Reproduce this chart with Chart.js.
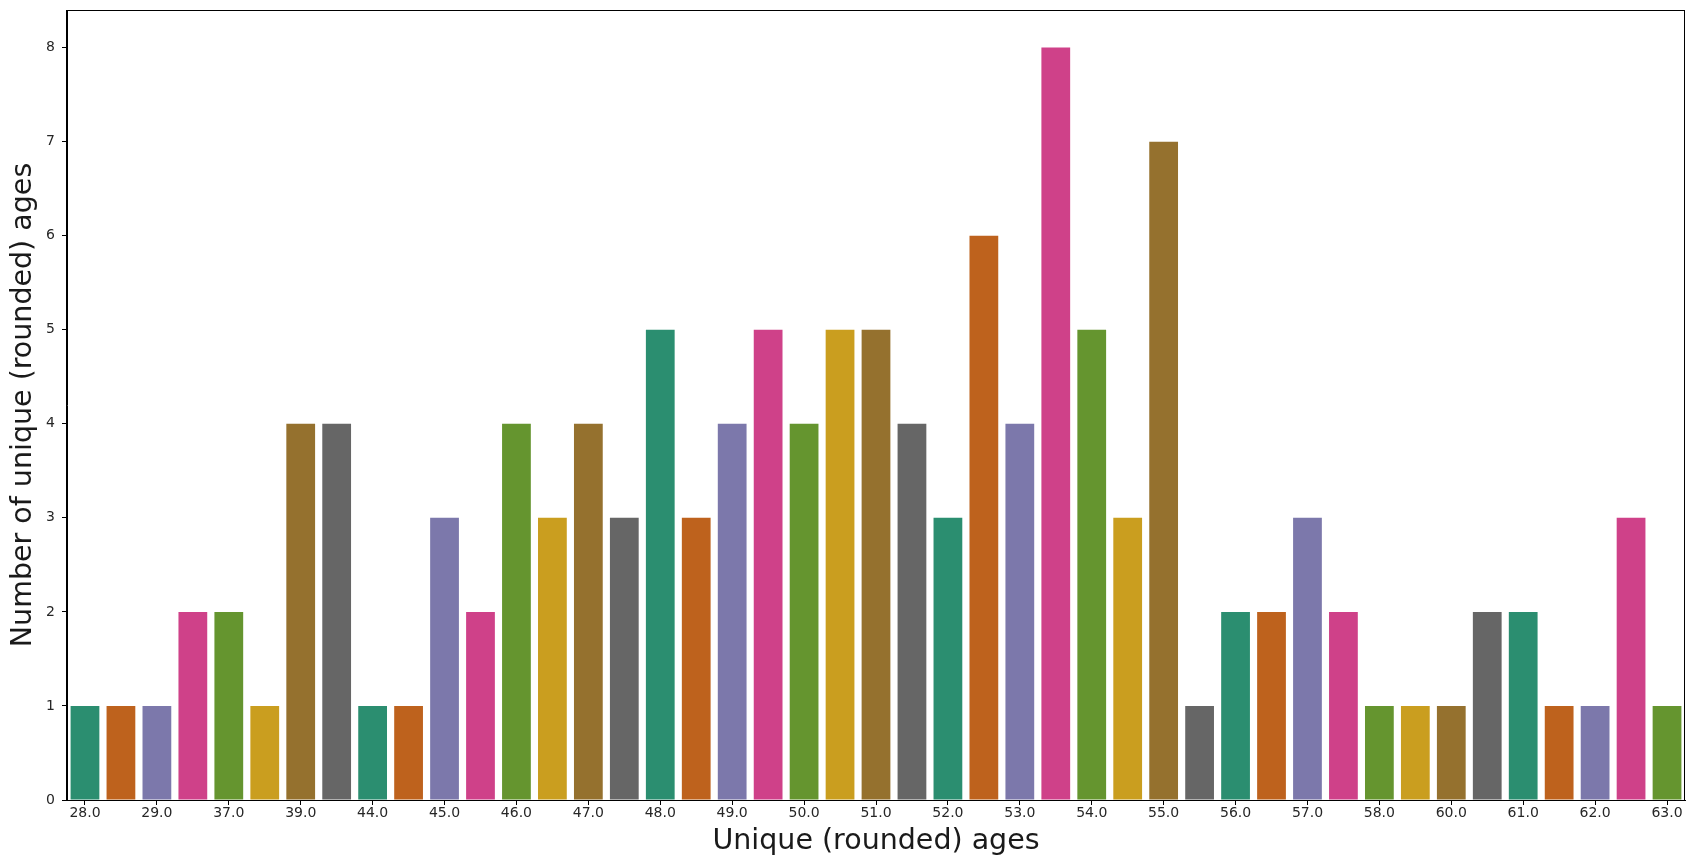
<!DOCTYPE html>
<html>
    <head>
        <meta charset="utf-8">
        <style>
            html, body { margin: 0; padding: 0; background: #ffffff; }
            canvas { display: block; }
        </style>
    </head>
    <body>

	<div>
		<canvas id="myChart" width="1699" height="868"></canvas>
	</div>

        <script src="https://cdn.jsdelivr.net/npm/chart.js"></script>

        <script>
		// counts per unique (rounded) age, left to right
		const counts = [1, 1, 1, 2, 2, 1, 4, 4, 1, 1, 3, 2, 4, 3, 4, 3, 5, 3, 4, 5, 4, 5, 5,
		                4, 3, 6, 4, 8, 5, 3, 7, 1, 2, 2, 3, 2, 1, 1, 1, 2, 2, 1, 1, 3, 1];

		// only every other category is labelled on the x axis
		const tickLabels = ['28.0', '29.0', '37.0', '39.0', '44.0', '45.0', '46.0', '47.0',
		                    '48.0', '49.0', '50.0', '51.0', '52.0', '53.0', '54.0', '55.0',
		                    '56.0', '57.0', '58.0', '60.0', '61.0', '62.0', '63.0'];

		const yTicks = [0, 1, 2, 3, 4, 5, 6, 7, 8];

		// Dark2, desaturated the way seaborn does for bars
		const palette = ['#2b8e70', '#be621d', '#7c78ab', '#cf4189',
		                 '#65952f', '#ca9e1f', '#95712e', '#666666'];

		const fontFamily = '"DejaVu Sans", "Liberation Sans", sans-serif';

		const frame = {
			id: 'frame',
			afterDatasetsDraw(chart) {
				const a = chart.chartArea;
				const ctx = chart.ctx;
				ctx.save();
				ctx.strokeStyle = '#000000';
				ctx.lineWidth = 1;
				ctx.strokeRect(a.left - 0.5, a.top + 0.5, a.right - a.left, a.bottom - a.top);
				ctx.restore();
			}
		};

		const ctx = document.getElementById('myChart');

		const mychart = new Chart(ctx, {
			type: 'bar',
			data: {
				labels: counts.map((c, i) => i),
				datasets: [{
					data: counts,
					backgroundColor: counts.map((c, i) => palette[i % palette.length]),
					borderWidth: 0,
					barPercentage: 0.8,
					categoryPercentage: 1.0
				}]
			},
			options: {
				responsive: false,
				animation: false,
				devicePixelRatio: 1,
				layout: {
					padding: { left: 6, right: 14, top: 10, bottom: 9 }
				},
				plugins: {
					legend: { display: false },
					tooltip: { enabled: false }
				},
				scales: {
					x: {
						type: 'category',
						offset: true,
						grid: {
							display: true,
							offset: false,
							drawOnChartArea: false,
							drawTicks: true,
							tickLength: 5,
							tickColor: (c) => (c.index % 2 === 0 ? '#000000' : 'rgba(0,0,0,0)')
						},
						border: { display: true, color: '#000000', width: 1 },
						ticks: {
							autoSkip: false,
							maxRotation: 0,
							minRotation: 0,
							padding: 0,
							color: '#262626',
							font: { family: fontFamily, size: 14 },
							callback: (value, index) => (index % 2 === 0 ? tickLabels[index / 2] : '')
						},
						title: {
							display: true,
							text: 'Unique (rounded) ages',
							color: '#1a1a1a',
							padding: 0,
							font: { family: fontFamily, size: 28.5 }
						},
						afterFit: (scale) => {
							scale.height = 59;
							scale.paddingLeft = 0;
							scale.paddingRight = 0;
						}
					},
					y: {
						min: 0,
						max: 8.4,
						afterBuildTicks: (scale) => { scale.ticks = yTicks.map(v => ({ value: v })); },
						grid: {
							display: true,
							drawOnChartArea: false,
							drawTicks: true,
							tickLength: 5,
							tickColor: '#000000'
						},
						border: { display: true, color: '#000000', width: 1 },
						ticks: {
							padding: 7,
							color: '#262626',
							font: { family: fontFamily, size: 14 }
						},
						title: {
							display: true,
							text: 'Number of unique (rounded) ages',
							color: '#1a1a1a',
							padding: 0,
							font: { family: fontFamily, size: 28.5 }
						},
						afterFit: (scale) => {
							scale.width = 61;
							scale.paddingTop = 0;
							scale.paddingBottom = 0;
						}
					}
				}
			},
			plugins: [frame]
		});
        </script>
    </body>
</html>
